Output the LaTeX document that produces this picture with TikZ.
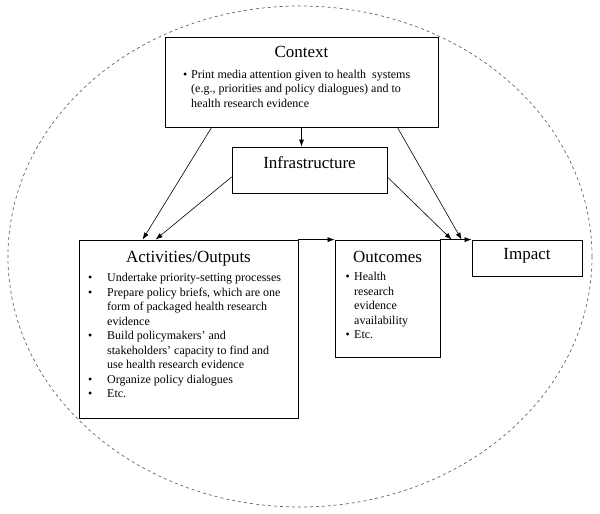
\documentclass[tikz,border=0pt]{standalone}
\usepackage{fontspec}
\setmainfont{Liberation Serif}
\usetikzlibrary{arrows.meta, calc}

\newcommand{\bul}[1]{\makebox[#1][l]{\textbullet}}
\newcommand{\ind}[1]{\hspace*{#1}}

\begin{document}
\begin{tikzpicture}[x=1pt, y=-1pt,
    box/.style={draw=black, line width=0.8pt, inner sep=0pt},
    title/.style={font=\fontsize{17}{20}\selectfont, anchor=base, inner sep=0pt},
    body/.style={font=\fontsize{12}{14.5}\selectfont, align=left, anchor=base west, inner sep=0pt},
    arr/.style={-{Latex[length=7pt, width=5pt]}, line width=0.6pt}]
    \useasboundingbox (0,0) rectangle (600,514);
    % dashed boundary
    \draw[gray!80!black, line width=0.7pt, dash pattern=on 3pt off 3pt] (300,256.5) ellipse [x radius=292, y radius=250.5];
    % boxes
    \node[box, minimum width=273pt, minimum height=90pt] (context) at (301.5,82) {};
    \node[box, minimum width=155pt, minimum height=46pt] (infra) at (309.5,170) {};
    \node[box, minimum width=219pt, minimum height=178pt] (acts) at (188.5,329) {};
    \node[box, minimum width=105pt, minimum height=117pt] (outcomes) at (387.5,298.5) {};
    \node[box, minimum width=110pt, minimum height=36pt] (impact) at (527,258) {};
    % titles
    \node[title] (ctxtitle) at (301.5,57) {Context};
    \node[title] (inftitle) at (309.5,168) {Infrastructure};
    \node[title] (actstitle) at (188.5,262) {Activities/Outputs};
    \node[title] (outtitle) at (387.5,262) {Outcomes};
    \node[title] (imptitle) at (527,259) {Impact};
    % bullet texts (placed at baseline of last line)
    \node[body] (ctxtext) at (183,107) {\bul{8pt}Print media attention given to health\ \ systems\\
        \ind{8pt}(e.g., priorities and policy dialogues) and to\\
        \ind{8pt}health research evidence};
    \node[body] (actstext) at (88,397.5) {\bul{19pt}Undertake priority-setting processes\\
        \bul{19pt}Prepare policy briefs, which are one\\
        \ind{19pt}form of packaged health research\\
        \ind{19pt}evidence\\
        \bul{19pt}Build policymakers’ and\\
        \ind{19pt}stakeholders’ capacity to find and\\
        \ind{19pt}use health research evidence\\
        \bul{19pt}Organize policy dialogues\\
        \bul{19pt}Etc.};
    \node[body] (outtext) at (345.5,338.7) {\bul{8.5pt}Health\\
        \ind{8.5pt}research\\
        \ind{8.5pt}evidence\\
        \ind{8.5pt}availability\\
        \bul{8.5pt}Etc.};
    % connectors
    \draw[arr] (context.south) -- (context.south |- infra.north);
    \draw[arr] ([xshift=47pt]context.south west) -- ([xshift=64pt]acts.north west);
    \draw[arr] ([yshift=-7pt]infra.west) -- ([xshift=77pt]acts.north west);
    \draw[arr] ([yshift=-7pt]infra.east) -- ([xshift=-20pt]impact.north west);
    \draw[arr] ([xshift=-41pt]context.south east) -- ([xshift=-10pt]impact.north west);
    \draw[arr] (acts.north east) -- (outcomes.north west);
    \draw[arr] (outcomes.north east) -- (impact.north west);
\end{tikzpicture}
\end{document}
